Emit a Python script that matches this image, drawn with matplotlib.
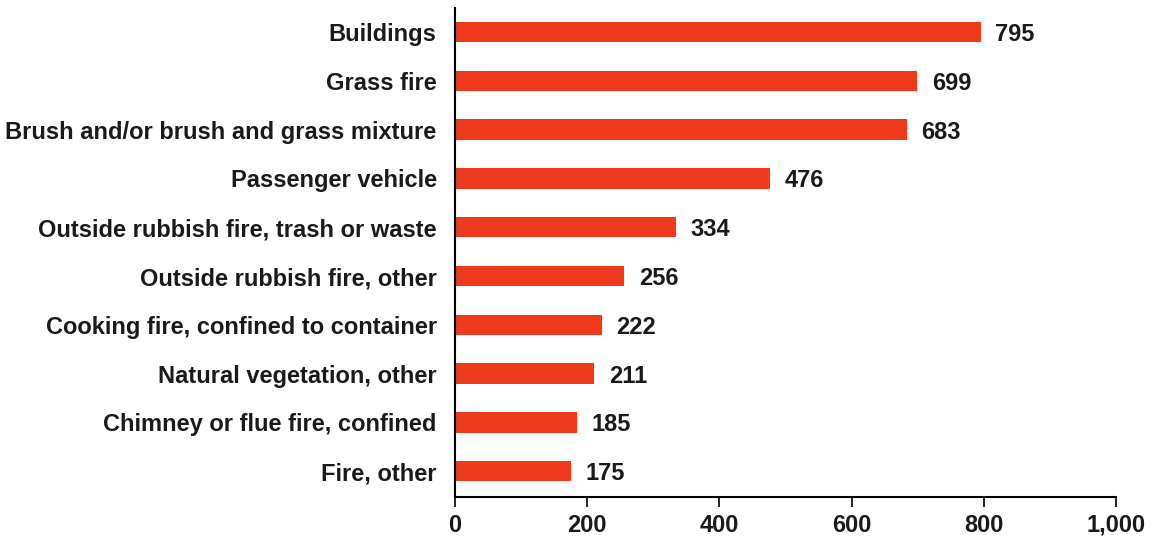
import matplotlib.pyplot as plt

categories = ['Buildings', 'Grass fire', 'Brush and/or brush and grass mixture',
              'Passenger vehicle', 'Outside rubbish fire, trash or waste',
              'Outside rubbish fire, other', 'Cooking fire, confined to container',
              'Natural vegetation, other', 'Chimney or flue fire, confined', 'Fire, other']
counts = [795, 699, 683, 476, 334, 256, 222, 211, 185, 175]
xticks = [0, 200, 400, 600, 800, 1000]
xtick_labels = ['0', '200', '400', '600', '800', '1,000']

plt.rcParams['font.family'] = ['Liberation Sans', 'DejaVu Sans']
plt.rcParams['font.weight'] = 'bold'

fig = plt.figure(figsize=(11.63, 5.38), dpi=100)
ax = fig.add_axes([0.391, 0.076, 0.569, 0.909])

fs = 17
pos = list(range(len(categories)))
ax.barh(pos, counts, height=0.42, color='#ee3a1c')
for p, v in zip(pos, counts):
    ax.text(v + 22, p + 0.05, str(v), va='center', ha='left', fontsize=fs, fontweight='bold',
            color='#1a1a1a')

ax.set_yticks(pos)
ax.set_yticklabels(categories, fontsize=fs, fontweight='bold', color='#1a1a1a')
ax.set_ylim(len(categories) - 0.47, -0.49)
ax.set_xlim(0, 1000)
ax.set_xticks(xticks)
ax.set_xticklabels(xtick_labels, fontsize=fs, fontweight='bold', color='#1a1a1a')
ax.tick_params(axis='y', length=0, pad=13)
ax.tick_params(axis='x', length=7, width=1.2, pad=5)
for s in ['top', 'right']:
    ax.spines[s].set_visible(False)
ax.spines['left'].set_linewidth(1.5)
ax.spines['bottom'].set_linewidth(1.5)

fig.savefig('out.png', dpi=100)
